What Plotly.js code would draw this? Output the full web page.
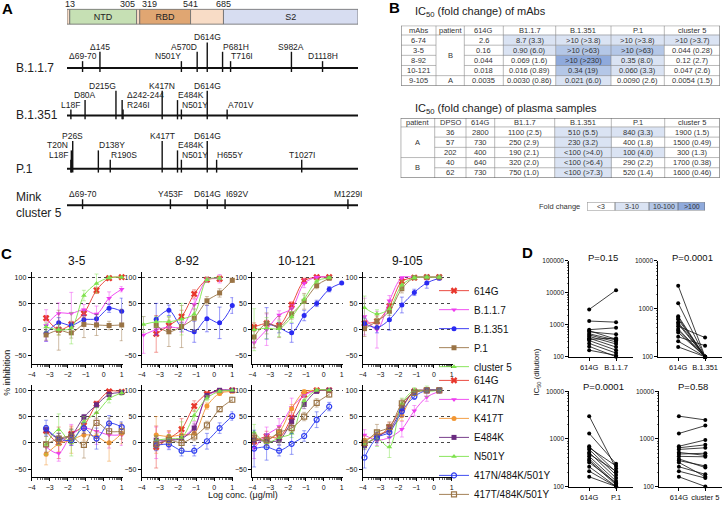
<!DOCTYPE html>
<html>
<head>
<meta charset="utf-8">
<script src="https://cdn.plot.ly/plotly-3.0.1.min.js"></script>
<style>
html,body{margin:0;padding:0;background:#fff;}
#chart{width:724px;height:509px;}
</style>
</head>
<body>
<div id="chart"></div>
<script>
// ================= DATA =================
// ---- Panel A: spike domains and mutations (residue numbers)
const spikeLength = 1273;
const domainStarts = [1, 13, 305, 319, 541, 685];
const domainEnds = [13, 305, 319, 541, 685, 1273];
const domainNames = ['', 'NTD', '', 'RBD', '', 'S2'];
const domainBoundaries = [13, 305, 319, 541, 685];
const variantLabels = ['B.1.1.7', 'B.1.351', 'P.1', 'Mink<br>cluster 5'];
const mutB117 = ['Δ69-70','Δ145','N501Y','A570D','D614G','P681H','T716I','S982A','D1118H'];
const posB117 = [69, 145, 501, 570, 614, 681, 716, 982, 1118];
const mutB1351 = ['L18F','D80A','D215G','Δ242-244','R246I','K417N','E484K','N501Y','D614G','A701V'];
const posB1351 = [18, 80, 215, 242, 246, 417, 484, 501, 614, 701];
const mutP1 = ['L18F','T20N','P26S','D138Y','R190S','K417T','E484K','N501Y','D614G','H655Y','T1027I'];
const posP1 = [18, 20, 26, 138, 190, 417, 484, 501, 614, 655, 1027];
const mutMink = ['Δ69-70','Y453F','D614G','I692V','M1229I'];
const posMink = [69, 453, 614, 692, 1229];

// ---- Panel B: IC50 tables
const tableVariants = ['B1.1.7', 'B.1.351', 'P.1', 'cluster 5'];
const mAbNames = ['6-74', '3-5', '8-92', '10-121', '9-105'];
const mAbPatient = ['B', 'B', 'B', 'B', 'A'];
const mAb614G = ['2.6', '0.16', '0.044', '0.018', '0.0035'];
const mAbB117 = ['8.7 (3.3)', '0.90 (6.0)', '0.069 (1.6)', '0.016 (0.89)', '0.0030 (0.86)'];
const mAbB1351 = ['>10 (>3.8)', '>10 (>63)', '>10 (>230)', '0.34 (19)', '0.021 (6.0)'];
const mAbP1 = ['>10 (>3.8)', '>10 (>63)', '0.35 (8.0)', '0.060 (3.3)', '0.0090 (2.6)'];
const mAbCl5 = ['>10 (>3.7)', '0.044 (0.28)', '0.12 (2.7)', '0.047 (2.6)', '0.0054 (1.5)'];
const plasmaPatient = ['A', 'A', 'A', 'B', 'B'];
const plasmaDPSO = ['36', '57', '202', '40', '62'];
const plasma614G = ['2800', '730', '400', '640', '730'];
const plasmaB117 = ['1100 (2.5)', '250 (2.9)', '190 (2.1)', '320 (2.0)', '750 (1.0)'];
const plasmaB1351 = ['510 (5.5)', '230 (3.2)', '<100 (>4.0)', '<100 (>6.4)', '<100 (>7.3)'];
const plasmaP1 = ['840 (3.3)', '400 (1.8)', '100 (4.0)', '290 (2.2)', '520 (1.4)'];
const plasmaCl5 = ['1900 (1.5)', '1500 (0.49)', '300 (1.3)', '1700 (0.38)', '1600 (0.46)'];
const foldLabels = ['<3', '3-10', '10-100', '>100'];
const foldLevels = [0, 1, 2, 3];

// ---- Panel C: neutralization curves (% inhibition vs log conc.)
const mAbPanels = ['3-5', '8-92', '10-121', '9-105'];
const conc = [-3.9, -3.2, -2.5, -1.8, -1.1, -0.4, 0.3, 1.0];
const strainsTop = ['614G', 'B.1.1.7', 'B.1.351', 'P.1', 'cluster 5'];
const strainsBottom = ['614G', 'K417N', 'K417T', 'E484K', 'N501Y', '417N/484K/501Y', '417T/484K/501Y'];
const top35 = [
  [null, 22, 0, 10, 31, 75, 98, 100],
  [null, 8, 31, 31, 38, 30, 60, 77],
  [null, -7, 13, 8, 19, 21, 41, 35],
  [null, -10, -1, -6, 10, 9, 8, 9],
  [null, 5, 0, 3, 65, 88, 99, 100]];
const errTop35 = [[0,5,10,6,8,6,3,2],[0,30,20,40,10,15,12,5],[0,15,10,6,8,8,8,25],[0,10,38,10,25,20,8,30],[0,8,10,30,10,18,3,2]];
const top892 = [
  [null, -8, 8, 25, 68, 95, 97, null],
  [-10, 0, 5, 5, 48, 95, 97, null],
  [null, 20, 37, 5, -4, 21, 13, 46],
  [null, 8, -4, 6, 22, 55, 70, 94],
  [10, 15, 15, 20, 30, 95, 98, null]];
const errTop892 = [[0,35,10,12,8,5,5,0],[35,10,8,10,10,5,8,0],[0,30,10,8,20,25,30,15],[0,8,28,40,25,8,8,4],[15,10,10,30,10,5,3,0]];
const top10121 = [
  [5, 12, 8, 47, 93, 100, 100, null],
  [-25, 0, 28, 40, 88, 100, 100, null],
  [null, 12, 4, -6, 27, 50, 77, 89],
  [-14, 12, 5, 30, 54, 84, 98, null],
  [0, 3, 2, 24, 58, 92, 99, null]];
const errTop10121 = [[8,6,5,6,5,2,2,0],[10,30,8,8,8,2,2,0],[0,30,10,18,10,6,5,3],[20,20,20,10,15,6,3,0],[40,20,15,10,8,4,2,0]];
const top9105 = [
  [12, 16, 45, 92, 99, 100, 100, null],
  [25, 0, 55, 99, 100, 100, 100, null],
  [12, 4, 19, 47, 71, 89, 98, null],
  [2, 16, 35, 78, 99, 100, 100, null],
  [42, 30, 40, 85, 99, 100, 100, null]];
const errTop9105 = [[5,10,10,5,3,2,2,0],[35,35,10,2,2,2,2,0],[10,10,20,15,6,10,3,0],[15,15,8,8,3,2,2,0],[22,8,10,8,3,2,2,0]];
const bot35 = [
  [null, 23, 0, 17, 33, 74, 98, 97],
  [null, -8, -20, 15, 28, 22, 15, 15],
  [null, -22, -2, 5, 15, 12, 0, 18],
  [null, 25, 8, 15, 49, 72, 92, 96],
  [null, -3, 25, 0, 40, 57, 84, 95],
  [null, 28, 8, 5, 28, 8, 37, 30],
  [null, -3, 8, 12, -4, 38, 22, 22]];
const errBot35 = [[0,5,30,15,8,5,3,2],[0,10,15,20,15,25,25,20],[0,20,15,25,10,10,35,20],[0,8,10,10,5,5,5,3],[0,20,30,25,10,10,8,5],[0,15,10,10,10,20,15,10],[0,15,10,15,25,20,25,15]];
const bot892 = [
  [null, -8, 8, 26, 70, 93, 98, 100],
  [null, 0, 5, 10, 30, 88, 100, 100],
  [null, 15, 12, 15, 18, 70, 94, 98],
  [null, 5, 5, 8, 28, 90, 100, 100],
  [null, 5, 8, 10, 52, 85, 98, 100],
  [null, -5, -3, -15, -15, 3, 28, 51],
  [null, -3, 5, 0, 12, 33, 64, 82]];
const errBot892 = [[0,40,15,20,10,5,3,2],[0,30,15,10,10,5,2,2],[0,35,10,15,8,6,4,3],[0,8,8,8,8,4,2,2],[0,8,8,30,10,5,2,2],[0,10,10,10,10,15,10,8],[0,10,10,10,8,8,5,5]];
const bot10121 = [
  [3, 12, 10, 48, 92, 100, 100, null],
  [-10, 15, 31, 67, 90, 100, 100, null],
  [8, 5, 20, 65, 97, 100, 100, null],
  [5, 3, 5, 40, 73, 98, 100, null],
  [20, 0, 10, 18, 80, 100, 100, null],
  [-11, -8, -15, -2, 13, 44, 69, null],
  [10, 5, 20, 28, 50, 76, 92, null]];
const errBot10121 = [[10,10,8,15,5,2,2,0],[20,15,15,18,8,2,2,0],[10,8,10,8,4,2,2,0],[8,8,8,10,8,3,2,0],[15,10,8,8,10,2,2,0],[35,25,10,20,10,15,8,0],[8,10,10,8,8,8,5,0]];
const bot9105 = [
  [-2, 10, 30, 68, 98, 100, 100, null],
  [15, 5, 10, 26, 61, 87, 98, null],
  [5, 15, 25, 52, 95, 100, 100, null],
  [-5, 12, 25, 65, 98, 100, 100, null],
  [-3, 8, -8, 75, 100, 98, 100, null],
  [-28, 10, 20, 60, 88, 100, 100, null],
  [0, 20, 30, 75, 95, 100, 100, null]];
const errBot9105 = [[8,8,8,8,3,2,2,0],[10,10,10,15,10,8,3,0],[8,8,8,10,3,2,2,0],[8,8,8,8,3,2,2,0],[8,15,20,10,5,10,3,0],[20,10,10,10,5,3,2,0],[8,15,10,8,5,2,2,0]];

// ---- Panel D: paired plasma IC50 (dilution)
const dRef = '614G';
const dOthers = ['B.1.1.7', 'B.1.351', 'P.1', 'cluster 5'];
const dPvalues = ['P=0.15', 'P=0.0001', 'P=0.0001', 'P=0.58'];
const ic50_614G = [3000, 1300, 700, 650, 600, 520, 480, 430, 380, 350, 320, 260, 210, 160];
const ic50_B117 = [12000, 1200, 800, 350, 500, 330, 290, 250, 200, 380, 160, 130, 100, 110];
const ic50_B1351 = [100, 100, 100, 100, 100, 100, 100, 250, 100, 100, 100, 170, 100, 100];
const ic50_P1 = [240, 300, 200, 270, 175, 150, 210, 130, 115, 108, 120, 100, 100, 100];
const ic50_Cl5 = [2500, 1900, 950, 750, 650, 450, 500, 420, 250, 270, 160, 180, 150, 100];
const dTickVals = [100, 1000, 10000, 100000];
const dTickText = ['100', '1000', '10000', '100000'];

// ================= STYLE / LAYOUT =================
const W = 724, H = 509;
const px = v => v / W;
const py = v => 1 - v / H;
const FONT = 'Liberation Sans, Arial, Helvetica, sans-serif';
const traces = [], annotations = [], shapes = [];
const layout = {
  width: W, height: H, margin: {l: 0, r: 0, t: 0, b: 0},
  paper_bgcolor: '#fff', plot_bgcolor: 'rgba(0,0,0,0)',
  font: {family: FONT, size: 9, color: '#111'},
  hovermode: false, showlegend: true
};
function ann(o) {
  annotations.push(Object.assign({xref: 'paper', yref: 'paper', showarrow: false, font: {size: 9, color: '#111'}}, o));
}

// panel letters
[['A', 7, 9], ['B', 394, 8], ['C', 6, 257], ['D', 527, 256]].forEach(([t, x, y]) =>
  ann({text: '<b>' + t + '</b>', x: px(x), y: py(y), xanchor: 'center', yanchor: 'middle', font: {size: 15, color: '#000'}}));

// ---------- Panel A ----------
const domainColors = ['#f8dcc6', '#c6e0b4', '#f8dcc6', '#e0a672', '#f8dcc6', '#d7ddf1'];
const boundaryAnchor = ['center', 'right', 'left', 'center', 'center'];
const variantBaseY = [69, 117, 171, 208];
const variantLabelOffset = [12, 11, 14, 11];
const variantMuts = [mutB117, mutB1351, mutP1, mutMink];
const variantPos = [posB117, posB1351, posP1, posMink];
const variantLevels = [
  [1, 2, 1, 2, 3, 2, 1, 2, 1],
  [1, 2, 3, 2, 1, 3, 2, 1, 3, 1],
  [1, 2, 3, 2, 1, 3, 2, 1, 3, 1, 1],
  [1, 1, 1, 1, 1]];
const variantAnchors = [
  ['center', 'center', 'right', 'right', 'center', 'left', 'left', 'center', 'center'],
  ['center', 'center', 'right', 'left', 'left', 'center', 'left', 'left', 'center', 'left'],
  ['right', 'right', 'center', 'left', 'left', 'center', 'left', 'left', 'center', 'left', 'center'],
  ['center', 'center', 'center', 'left', 'center']];
const variantShifts = [
  [0, 0, 2, 2, 0, -1.5, -1.5, 0, 0],
  [0, 0, 2, 2.5, 2, 0, -1.5, -1.5, 0, -1.5],
  [-1, -1, 0, -1.5, -1.5, 0, -1.5, -1.5, 0, -1.5, 0],
  [0, 0, 0, -1.5, 0]];

layout.xaxis = {domain: [px(67), px(358)], range: [domainStarts[0], spikeLength], visible: false, fixedrange: true};
layout.yaxis = {domain: [py(215), 1], range: [215, 0], visible: false};
traces.push({
  type: 'bar', orientation: 'h', base: domainStarts,
  x: domainEnds.map((e, i) => e - domainStarts[i]), y: domainStarts.map(() => 17), width: 15,
  marker: {color: domainColors, line: {color: '#6a6a6a', width: 0.8}},
  text: domainNames, textposition: 'inside', insidetextanchor: 'middle', constraintext: 'none',
  textfont: {size: 9, color: '#222'}, hoverinfo: 'skip', showlegend: false, xaxis: 'x', yaxis: 'y'
});
domainBoundaries.forEach((b, i) => annotations.push({
  xref: 'x', yref: 'y', x: b, y: 4.5, text: String(b), showarrow: false,
  xanchor: boundaryAnchor[i], yanchor: 'middle', font: {size: 9, color: '#222'}
}));
const baseX = [], baseY = [], tickX = [], tickY = [];
variantLabels.forEach((lab, v) => {
  const b = variantBaseY[v];
  baseX.push(domainStarts[0], spikeLength, null); baseY.push(b, b, null);
  ann({text: lab, x: px(14), yref: 'y', y: b, xanchor: 'left', yanchor: 'middle', align: 'left', font: {size: 12, color: '#222'}});
  variantMuts[v].forEach((m, j) => {
    const r = variantPos[v][j];
    const ly = b - variantLabelOffset[v] - (variantLevels[v][j] - 1) * 9.5;
    tickX.push(r, r, null); tickY.push(b + 4, ly + 5, null);
    annotations.push({xref: 'x', yref: 'y', x: r, y: ly, text: m, showarrow: false,
      xanchor: variantAnchors[v][j], yanchor: 'middle', xshift: variantShifts[v][j],
      font: {size: 8.5, color: '#222'}});
  });
});
traces.push({type: 'scatter', mode: 'lines', x: baseX, y: baseY, line: {color: '#111', width: 2},
  xaxis: 'x', yaxis: 'y', showlegend: false, hoverinfo: 'skip'});
traces.push({type: 'scatter', mode: 'lines', x: tickX, y: tickY, line: {color: '#111', width: 1.4},
  xaxis: 'x', yaxis: 'y', showlegend: false, hoverinfo: 'skip'});

// ---------- Panel B ----------
const foldScale = [[0, '#ffffff'], [0.25, '#ffffff'], [0.25, '#dae3f3'], [0.5, '#dae3f3'],
  [0.5, '#b4c7e7'], [0.75, '#b4c7e7'], [0.75, '#8faadc'], [1, '#8faadc']];
function foldLevel(s) {
  const m = /\(([<>]?)([\d.]+)\)/.exec(s);
  if (!m) return 0;
  const f = parseFloat(m[2]);
  return f < 3 ? 0 : f < 10 ? 1 : f < 100 ? 2 : 3;
}
const GRID = '#8a8a8a';
function addTable(id, left, top, colW, headH, rowH, header, cols, mergeCol, shadeFrom) {
  const nR = cols[0].length, nC = cols.length;
  const totW = colW.reduce((a, b) => a + b, 0), totH = headH + nR * rowH;
  const xe = [0]; colW.forEach(w => xe.push(xe[xe.length - 1] + w));
  const ye = [0, headH]; for (let r = 0; r < nR; r++) ye.push(headH + (r + 1) * rowH);
  const z = [header.map(() => 0)];
  for (let r = 0; r < nR; r++) z.push(cols.map((c, ci) => ci >= shadeFrom ? foldLevel(c[r]) : 0));
  const xa = 'x' + id, ya = 'y' + id;
  traces.push({type: 'heatmap', x: xe, y: ye, z: z, zmin: -0.5, zmax: 3.5, colorscale: foldScale,
    showscale: false, hoverinfo: 'skip', xaxis: xa, yaxis: ya});
  layout['xaxis' + id] = {domain: [px(left), px(left + totW)], range: [0, totW], visible: false, fixedrange: true};
  layout['yaxis' + id] = {domain: [py(top + totH), py(top)], range: [totH, 0], visible: false, fixedrange: true};
  const cell = (t, x, y) => annotations.push({xref: xa, yref: ya, x: x, y: y, text: t, showarrow: false,
    xanchor: 'center', yanchor: 'middle', font: {size: 7.5, color: '#333'}});
  header.forEach((h, c) => cell(h, (xe[c] + xe[c + 1]) / 2, headH / 2));
  cols.forEach((col, c) => {
    if (c === mergeCol) {
      let s = 0;
      for (let r = 1; r <= nR; r++) {
        if (r === nR || col[r] !== col[s]) {
          cell(col[s], (xe[c] + xe[c + 1]) / 2, (ye[s + 1] + ye[r + 1]) / 2);
          s = r;
        }
      }
    } else {
      col.forEach((t, r) => cell(t, (xe[c] + xe[c + 1]) / 2, (ye[r + 1] + ye[r + 2]) / 2));
    }
  });
  const ln = (x0, y0, x1, y1, w) => shapes.push({type: 'line', xref: xa, yref: ya, x0, y0, x1, y1,
    line: {color: w > 0.8 ? '#555' : GRID, width: w}});
  xe.forEach((x, i) => ln(x, 0, x, totH, (i === 0 || i === nC) ? 1 : 0.6));
  ye.forEach((y, k) => {
    const outer = k === 0 || k === ye.length - 1;
    const r = k - 1;
    if (k >= 2 && r >= 1 && r < nR && cols[mergeCol][r] === cols[mergeCol][r - 1]) {
      ln(0, y, xe[mergeCol], y, 0.6);
      ln(xe[mergeCol + 1], y, totW, y, 0.6);
    } else {
      ln(0, y, totW, y, outer ? 1 : 0.6);
    }
  });
}
ann({text: 'IC<sub>50</sub> (fold change) of mAbs', x: px(413), y: py(12), xanchor: 'left', yanchor: 'middle', font: {size: 11, color: '#222'}});
addTable(22, 401, 26, [35, 28.3, 39, 52.4, 55.3, 53.3, 55.7], 9.5, 10.3,
  ['mAbs', 'patient', '614G'].concat(tableVariants),
  [mAbNames, mAbPatient, mAb614G, mAbB117, mAbB1351, mAbP1, mAbCl5], 1, 3);
ann({text: 'IC<sub>50</sub> (fold change) of plasma samples', x: px(413), y: py(111), xanchor: 'left', yanchor: 'middle', font: {size: 11, color: '#222'}});
addTable(23, 400.7, 119.7, [34, 31.3, 28.7, 60, 56.6, 53.4, 55], 9, 10.35,
  ['patient', 'DPSO', '614G'].concat(tableVariants),
  [plasmaPatient, plasmaDPSO, plasma614G, plasmaB117, plasmaB1351, plasmaP1, plasmaCl5], 0, 3);
(function () {
  const w = [28, 34, 29, 27], left = 587, top = 205, h = 8.5;
  const xe = [0]; w.forEach(v => xe.push(xe[xe.length - 1] + v));
  traces.push({type: 'heatmap', x: xe, y: [0, h], z: [foldLevels], zmin: -0.5, zmax: 3.5, colorscale: foldScale,
    showscale: false, hoverinfo: 'skip', xaxis: 'x24', yaxis: 'y24'});
  layout.xaxis24 = {domain: [px(left), px(left + xe[4])], range: [0, xe[4]], visible: false, fixedrange: true};
  layout.yaxis24 = {domain: [py(top + h), py(top)], range: [h, 0], visible: false, fixedrange: true};
  foldLabels.forEach((t, i) => annotations.push({xref: 'x24', yref: 'y24', x: (xe[i] + xe[i + 1]) / 2, y: h / 2,
    text: t, showarrow: false, font: {size: 7, color: '#333'}}));
  xe.forEach(x => shapes.push({type: 'line', xref: 'x24', yref: 'y24', x0: x, x1: x, y0: 0, y1: h, line: {color: '#555', width: 0.7}}));
  [0, h].forEach(y => shapes.push({type: 'line', xref: 'x24', yref: 'y24', x0: 0, x1: xe[4], y0: y, y1: y, line: {color: '#555', width: 0.7}}));
  ann({text: 'Fold change', x: px(582), y: py(209.3), xanchor: 'right', yanchor: 'middle', font: {size: 7.5, color: '#333'}});
})();

// ---------- Panel C ----------
const topColors = ['#e8372c', '#ee3df0', '#2a2af2', '#9a7446', '#7ee24c'];
const topSymbols = ['x', 'triangle-down', 'circle', 'square', 'triangle-up'];
const botColors = ['#e8372c', '#ee3df0', '#f29633', '#6a2b80', '#7ee24c', '#2d3cf0', '#9a7446'];
const botSymbols = ['x', 'triangle-down', 'circle', 'square', 'triangle-up', 'circle-open', 'square-open'];
const cColX = [[31.7, 122.6], [141.7, 233.2], [252.3, 342.6], [362.7, 452.6]];
const cRowY = [[275.7, 368.9], [390.4, 483.6]];
const cData = [[top35, top892, top10121, top9105], [bot35, bot892, bot10121, bot9105]];
const cErr = [[errTop35, errTop892, errTop10121, errTop9105], [errBot35, errBot892, errBot10121, errBot9105]];
const minorX = [];
for (let k = -4; k < 1; k++) for (let m = 2; m <= 9; m++) minorX.push(k + Math.log10(m));
function rgba(hex, a) {
  const n = parseInt(hex.slice(1), 16);
  return 'rgba(' + (n >> 16) + ',' + ((n >> 8) & 255) + ',' + (n & 255) + ',' + a + ')';
}
for (let row = 0; row < 2; row++) {
  for (let col = 0; col < 4; col++) {
    const k = row * 4 + col, n = 2 + k, g = 10 + k;
    const xa = 'x' + n, ya = 'y' + n;
    layout['xaxis' + n] = {domain: [px(cColX[col][0]), px(cColX[col][1])], range: [-4, 1.05],
      tickvals: [-4, -3, -2, -1, 0, 1], ticks: 'outside', ticklen: 3.5, tickwidth: 1, tickcolor: '#000',
      showline: true, linecolor: '#000', linewidth: 1, showgrid: false, zeroline: false,
      tickfont: {size: 7, color: '#111'}, anchor: ya,
      minor: {tickmode: 'array', tickvals: minorX, ticks: 'outside', ticklen: 2, tickcolor: '#000', tickwidth: 0.6, showgrid: false}};
    layout['yaxis' + n] = {domain: [py(cRowY[row][1]), py(cRowY[row][0])], range: [-65, 110],
      tickvals: [-50, 0, 50, 100], ticks: 'outside', ticklen: 3, tickcolor: '#000',
      showline: true, linecolor: '#000', linewidth: 1, showgrid: false, zeroline: false,
      tickfont: {size: 7, color: '#111'}, anchor: xa};
    layout['yaxis' + g] = {overlaying: ya, anchor: xa, range: [-65, 110], tickvals: [0, 50, 100],
      showgrid: true, griddash: 'dot', gridcolor: '#333', gridwidth: 0.9, showticklabels: false,
      ticks: '', showline: false, zeroline: false};
    traces.push({type: 'scatter', x: [], y: [], xaxis: xa, yaxis: 'y' + g, showlegend: false, hoverinfo: 'skip'});
    const names = row === 0 ? strainsTop : strainsBottom;
    const colors = row === 0 ? topColors : botColors;
    const syms = row === 0 ? topSymbols : botSymbols;
    cData[row][col].forEach((vals, s) => {
      const c = colors[s], open = syms[s].indexOf('open') >= 0;
      traces.push({
        type: 'scatter', mode: 'lines+markers', x: conc, y: vals, xaxis: xa, yaxis: ya,
        name: names[s], legend: row === 0 ? 'legend' : 'legend2', legendgroup: 'r' + row + s,
        showlegend: col === 0, cliponaxis: false,
        line: {shape: 'spline', smoothing: 0.9, width: 1, color: rgba(c, 0.9)},
        marker: {symbol: syms[s], size: syms[s] === 'x' ? 6 : 5, color: c, line: {width: open ? 1.2 : 0, color: c}},
        error_y: {type: 'data', array: cErr[row][col][s], visible: true, color: rgba(c, 0.6), thickness: 0.8, width: 2}
      });
    });
    if (row === 0) ann({text: mAbPanels[col], x: px((cColX[col][0] + cColX[col][1]) / 2), y: py(265),
      xanchor: 'center', yanchor: 'middle', font: {size: 12, color: '#111'}});
  }
}
ann({text: '% inhibition', x: px(7), y: py(378), textangle: -90, xanchor: 'center', yanchor: 'middle', font: {size: 9, color: '#111'}});
ann({text: 'Log conc. (μg/ml)', x: px(243), y: py(502), xanchor: 'center', yanchor: 'middle', font: {size: 9, color: '#111'}});
layout.legend = {x: px(434), y: py(280), xanchor: 'left', yanchor: 'top', bgcolor: 'rgba(0,0,0,0)',
  font: {size: 10, color: '#111'}, itemwidth: 30, tracegroupgap: 0};
layout.legend2 = {x: px(434), y: py(371), xanchor: 'left', yanchor: 'top', bgcolor: 'rgba(0,0,0,0)',
  font: {size: 10, color: '#111'}, itemwidth: 30, tracegroupgap: 0};

// ---------- Panel D ----------
const dBoxes = [
  {x: [569.3, 633], y: [264.3, 361.7], r: [2, 5]},
  {x: [658.3, 722], y: [264.3, 361.7], r: [2, 4]},
  {x: [569.3, 633], y: [396.7, 493.3], r: [2, 4]},
  {x: [659.3, 722], y: [396.7, 493.3], r: [2, 4]}];
const dSeries = [ic50_B117, ic50_B1351, ic50_P1, ic50_Cl5];
dBoxes.forEach((b, i) => {
  const n = 18 + i, xa = 'x' + n, ya = 'y' + n;
  layout['xaxis' + n] = {domain: [px(b.x[0]), px(b.x[1])], type: 'category', categoryorder: 'array',
    categoryarray: [dRef, dOthers[i]], range: [-0.74, 1.63], ticks: 'outside', ticklen: 3, tickcolor: '#000',
    showline: true, linecolor: '#000', linewidth: 1, showgrid: false, zeroline: false,
    tickfont: {size: 7.5, color: '#111'}, anchor: ya};
  layout['yaxis' + n] = {domain: [py(b.y[1]), py(b.y[0])], type: 'log', range: b.r,
    tickmode: 'array', tickvals: dTickVals, ticktext: dTickText, ticks: 'outside', ticklen: 3, tickcolor: '#000',
    showline: true, linecolor: '#000', linewidth: 1, showgrid: false, zeroline: false,
    tickfont: {size: 6.5, color: '#111'}, anchor: xa,
    minor: {ticks: 'outside', ticklen: 1.8, tickcolor: '#000', tickwidth: 0.6, dtick: 'D1', showgrid: false}};
  const xs = [], ys = [];
  ic50_614G.forEach((v, j) => { xs.push(dRef, dOthers[i], null); ys.push(v, dSeries[i][j], null); });
  traces.push({type: 'scatter', mode: 'lines+markers', x: xs, y: ys, xaxis: xa, yaxis: ya, cliponaxis: false,
    line: {color: '#111', width: 0.8}, marker: {color: '#000', size: 4}, showlegend: false, hoverinfo: 'skip'});
  ann({text: dPvalues[i], x: px((b.x[0] + b.x[1]) / 2 + 2), y: py(i < 2 ? 261 : 392), xanchor: 'center', yanchor: 'middle',
    font: {size: 9.5, color: '#111'}});
});
ann({text: 'IC<sub>50</sub> (dilution)', x: px(537), y: py(378), textangle: -90, xanchor: 'center', yanchor: 'middle', font: {size: 8, color: '#111'}});

layout.annotations = annotations;
layout.shapes = shapes;
Plotly.newPlot('chart', traces, layout, {displayModeBar: false, staticPlot: true});
</script>
</body>
</html>
